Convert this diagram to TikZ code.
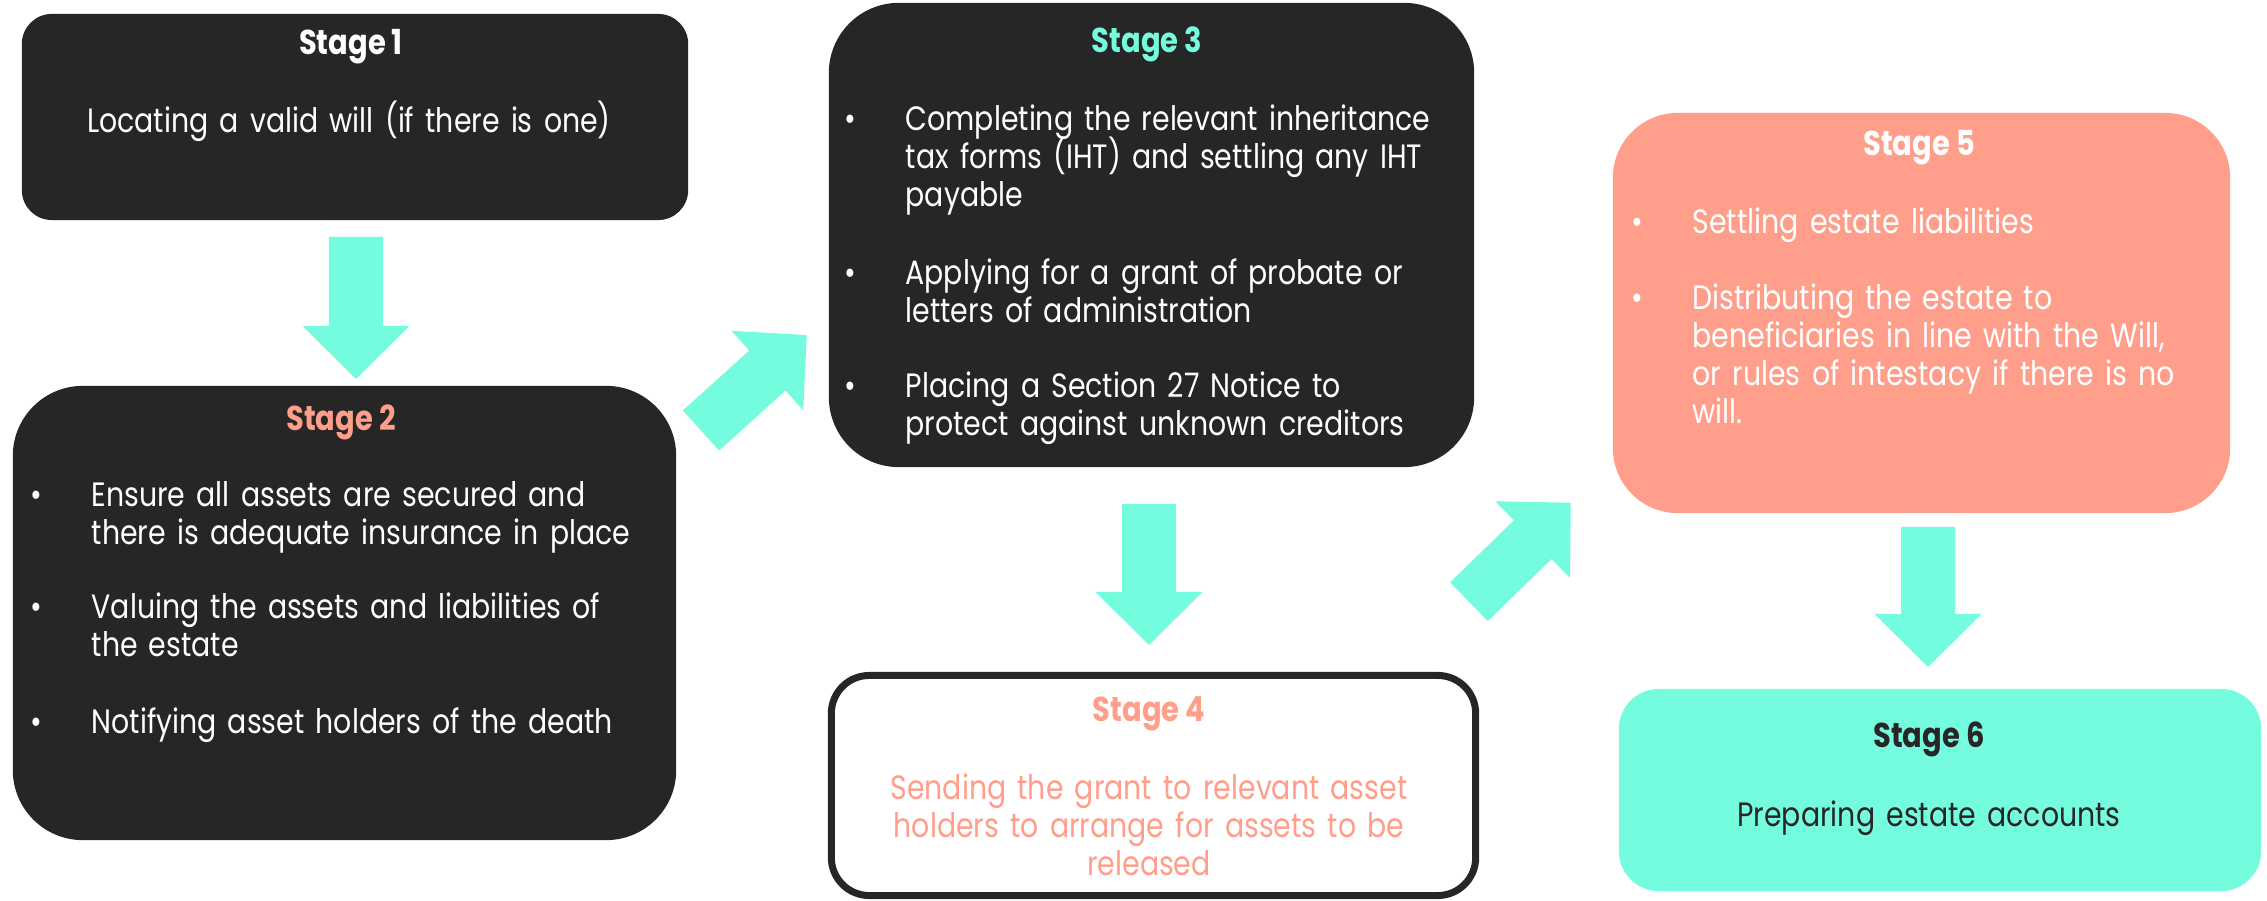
\documentclass[tikz,border=0pt]{standalone}
\usepackage{fontspec}
\setmainfont{Poppins}[FakeStretch=0.84]
\usetikzlibrary{calc}
\definecolor{dk}{HTML}{262626}
\definecolor{tl}{HTML}{75FBDE}
\definecolor{sm}{HTML}{FF9E8A}
\newcommand{\txtfont}{\fontsize{9.6}{10.8}\selectfont\lineskiplimit=-20pt\relax}
\tikzset{
  stagebox/.style={rectangle, rounded corners=#1, inner sep=0pt},
  ttl/.style={font={\fontsize{9.8}{10.8}\selectfont\bfseries}, anchor=base, inner sep=0pt},
  bodytxt/.style={font=\txtfont, anchor=base west, inner sep=0pt, align=left, text width=6.2cm},
  ctrtxt/.style={font=\txtfont, anchor=base, inner sep=0pt, align=center, text width=6.2cm},
  bul/.style={font=\txtfont, anchor=base, inner sep=0pt},
  arrowfill/.style={fill=tl, draw=none},
}
\newcommand{\blkarrow}[2]{%
  \coordinate (#1m) at ($(#2)!0.53cm!(#1)$);
  \fill[arrowfill] ($(#1)!0.27cm!90:(#2)$) -- ($(#1m)!0.27cm!90:(#2)$) -- ($(#1m)!0.535cm!90:(#2)$)
    -- (#2) -- ($(#1m)!0.535cm!-90:(#2)$) -- ($(#1m)!0.27cm!-90:(#2)$) -- ($(#1)!0.27cm!-90:(#2)$) -- cycle;
}
\begin{document}
\begin{tikzpicture}[x=0.01cm,y=-0.01cm]
\useasboundingbox (0,0) rectangle (2267,901);

% boxes
\node[stagebox=0.3cm, fill=dk, minimum width=6.66cm, minimum height=2.06cm] (s1) at (355,117) {};
\node[stagebox=0.7cm, fill=dk, minimum width=6.63cm, minimum height=4.54cm] (s2) at (344.5,613) {};
\node[stagebox=0.7cm, fill=dk, minimum width=6.45cm, minimum height=4.64cm] (s3) at (1151.5,235) {};
\node[stagebox=0.38cm, fill=white, draw=dk, line width=0.07cm, minimum width=6.44cm, minimum height=2.20cm] (s4) at (1153.5,785.5) {};
\node[stagebox=0.65cm, fill=sm, minimum width=6.17cm, minimum height=4.00cm] (s5) at (1921.5,313) {};
\node[stagebox=0.4cm, fill=tl, minimum width=6.42cm, minimum height=2.02cm] (s6) at (1940,790) {};

% Stage 1
\node[ttl, text=white] (h1) at (351,55) {Stage 1};
\node[ctrtxt, text=white] (t1) at (349,133) {Locating a valid will (if there is one)};

% Stage 2
\node[ttl, text=sm] (h2) at (341,431) {Stage 2};
\node[bul, text=white] (b21) at (36,507) {•};
\node[bodytxt, text=white] (t21) at (91,507) {Ensure all assets are secured and\\there is adequate insurance in place};
\node[bul, text=white] (b22) at (36,619) {•};
\node[bodytxt, text=white] (t22) at (91,619) {Valuing the assets and liabilities of\\the estate};
\node[bul, text=white] (b23) at (36,734) {•};
\node[bodytxt, text=white] (t23) at (91,734) {Notifying asset holders of the death};

% Stage 3
\node[ttl, text=tl] (h3) at (1147,53) {Stage 3};
\node[bul, text=white] (b31) at (850,131) {•};
\node[bodytxt, text=white] (t31) at (905,131) {Completing the relevant inheritance\\tax forms (IHT) and settling any IHT\\payable};
\node[bul, text=white] (b32) at (850,285) {•};
\node[bodytxt, text=white] (t32) at (905,285) {Applying for a grant of probate or\\letters of administration};
\node[bul, text=white] (b33) at (850,398) {•};
\node[bodytxt, text=white] (t33) at (905,398) {Placing a Section 27 Notice to\\protect against unknown creditors};

% Stage 4
\node[ttl, text=sm] (h4) at (1149,722) {Stage 4};
\node[ctrtxt, text=sm] (t4) at (1149,800) {Sending the grant to relevant asset\\holders to arrange for assets to be\\released};

% Stage 5
\node[ttl, text=white] (h5) at (1919,156) {Stage 5};
\node[bul, text=white] (b51) at (1637,234) {•};
\node[bodytxt, text=white] (t51) at (1692,234) {Settling estate liabilities};
\node[bul, text=white] (b52) at (1637,310) {•};
\node[bodytxt, text=white] (t52) at (1692,310) {Distributing the estate to\\beneficiaries in line with the Will,\\or rules of intestacy if there is no\\will.};

% Stage 6
\node[ttl, text=dk] (h6) at (1929,748) {Stage 6};
\node[ctrtxt, text=dk] (t6) at (1929,827) {Preparing estate accounts};

% arrows
\coordinate (a1s) at (356,237);   \coordinate (a1e) at (356,379);
\coordinate (a2s) at (701,430.5); \coordinate (a2e) at (806.7,335);
\coordinate (a3s) at (1149,504);  \coordinate (a3e) at (1149,645);
\coordinate (a4s) at (1469,601.7);\coordinate (a4e) at (1570.7,502.7);
\coordinate (a5s) at (1928,527);  \coordinate (a5e) at (1928,667);
\blkarrow{a1s}{a1e}
\blkarrow{a2s}{a2e}
\blkarrow{a3s}{a3e}
\blkarrow{a4s}{a4e}
\blkarrow{a5s}{a5e}
\end{tikzpicture}
\end{document}
